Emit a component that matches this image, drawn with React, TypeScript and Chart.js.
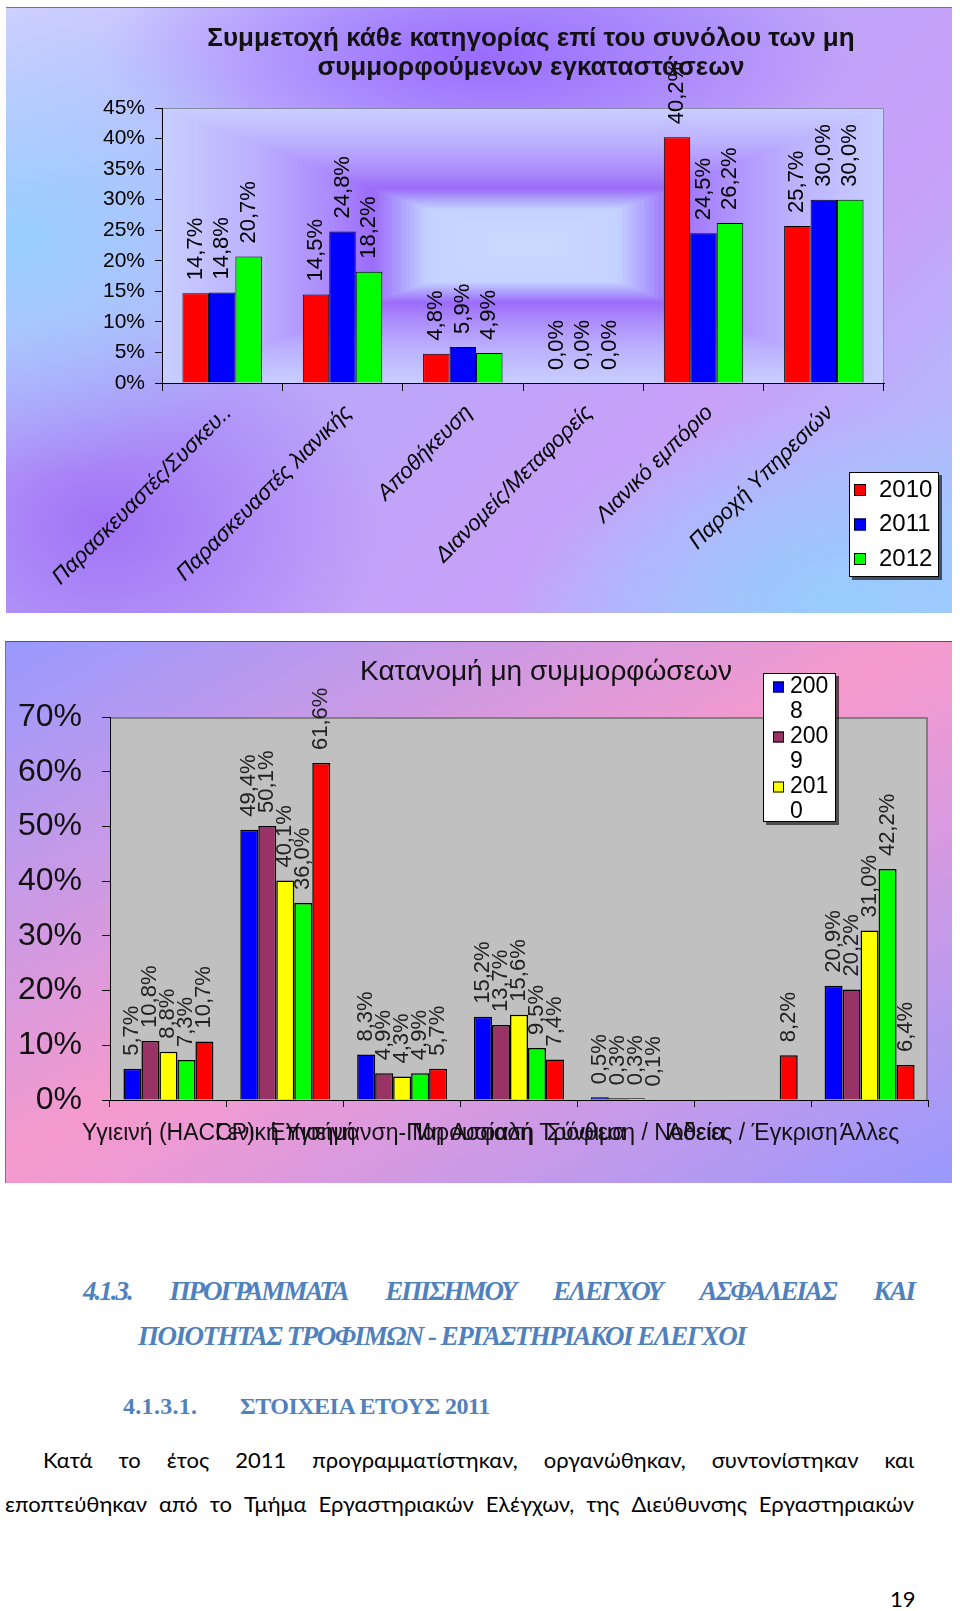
import React, { useEffect, useRef } from 'react';
import { Chart, registerables } from 'chart.js';

Chart.register(...registerables);

// ---------- Chart 1 data ----------
const cats1 = [
  'Παρασκευαστές/Συσκευ..',
  'Παρασκευαστές λιανικής',
  'Αποθήκευση',
  'Διανομείς/Μεταφορείς',
  'Λιανικό εμπόριο',
  'Παροχή Υπηρεσιών',
];
const years1 = ['2010', '2011', '2012'];
const c1y2010 = [14.7, 14.5, 4.8, 0.0, 40.2, 25.7];
const c1y2011 = [14.8, 24.8, 5.9, 0.0, 24.5, 30.0];
const c1y2012 = [20.7, 18.2, 4.9, 0.0, 26.2, 30.0];
const title1 = [
  'Συμμετοχή κάθε κατηγορίας επί του συνόλου των μη',
  'συμμορφούμενων εγκαταστάσεων',
];

// ---------- Chart 2 data ----------
const cats2 = [
  'Υγιεινή (HACCP)',
  'Γενική Υγιεινή',
  'Επισήμανση-Παρουσίαση',
  'Μη Ασφαλή Τρόφιμα',
  'Σύνθεση / Νοθεία',
  'Άδειες / Έγκριση',
  'Άλλες',
];
const years2 = ['2008', '2009', '2010', '2011', '2012'];
const c2y2008 = [5.7, 49.4, 8.3, 15.2, 0.5, null, 20.9];
const c2y2009 = [10.8, 50.1, 4.9, 13.7, 0.3, null, 20.2];
const c2y2010 = [8.8, 40.1, 4.3, 15.6, 0.3, null, 31.0];
const c2y2011 = [7.3, 36.0, 4.9, 9.5, 0.1, null, 42.2];
const c2y2012 = [10.7, 61.6, 5.7, 7.4, null, 8.2, 6.4];
const title2 = ['Κατανομή μη συμμορφώσεων'];

// ---------- page text ----------
const heading1Line1 = ['4.1.3.', 'ΠΡΟΓΡΑΜΜΑΤΑ', 'ΕΠΙΣΗΜΟΥ', 'ΕΛΕΓΧΟΥ', 'ΑΣΦΑΛΕΙΑΣ', 'ΚΑΙ'];
const heading1Line2 = 'ΠΟΙΟΤΗΤΑΣ ΤΡΟΦΙΜΩΝ - ΕΡΓΑΣΤΗΡΙΑΚΟΙ ΕΛΕΓΧΟΙ';
const heading2Num = '4.1.3.1.';
const heading2Text = 'ΣΤΟΙΧΕΙΑ ΕΤΟΥΣ 2011';
const bodyLine1 = 'Κατά το έτος 2011 προγραμματίστηκαν, οργανώθηκαν, συντονίστηκαν και'.split(' ');
const bodyLine2 = 'εποπτεύθηκαν από το Τμήμα Εργαστηριακών Ελέγχων, της Διεύθυνσης Εργαστηριακών'.split(' ');
const pageNumber = '19';

const SANS = "'Liberation Sans', Arial, sans-serif";

function fmtPct(v: number) {
  return v.toFixed(1).replace('.', ',') + '%';
}

function barLabels(size: number, color: string, offset: number) {
  return {
    id: 'barLabels',
    afterDatasetsDraw(chart: any) {
      const ctx = chart.ctx;
      ctx.save();
      ctx.font = `${size}px ${SANS}`;
      ctx.fillStyle = color;
      chart.data.datasets.forEach((ds: any, di: number) => {
        const meta = chart.getDatasetMeta(di);
        meta.data.forEach((bar: any, i: number) => {
          const v = ds.data[i];
          if (v === null || v === undefined) return;
          ctx.save();
          ctx.translate(bar.x, bar.y - offset);
          ctx.rotate(-Math.PI / 2);
          ctx.textAlign = 'left';
          ctx.textBaseline = 'middle';
          ctx.fillText(fmtPct(v), 0, 0);
          ctx.restore();
        });
      });
      ctx.restore();
    },
  };
}

function titlePlugin(lines: string[], font: string, cx: number, ys: number[], color: string) {
  return {
    id: 'customTitle',
    afterDraw(chart: any) {
      const ctx = chart.ctx;
      ctx.save();
      ctx.font = font;
      ctx.fillStyle = color;
      ctx.textAlign = 'center';
      ctx.textBaseline = 'middle';
      lines.forEach((ln, i) => ctx.fillText(ln, cx, ys[i]));
      ctx.restore();
    },
  };
}

function wrapText(ctx: CanvasRenderingContext2D, text: string, maxW: number) {
  const out: string[] = [];
  let cur = '';
  for (const ch of text) {
    if (cur && ctx.measureText(cur + ch).width > maxW) {
      out.push(cur);
      cur = ch;
    } else cur += ch;
  }
  if (cur) out.push(cur);
  return out;
}

function legendPlugin(cfg: any) {
  return {
    id: 'customLegend',
    afterDraw(chart: any) {
      const ctx = chart.ctx;
      const { x, y, w, h, font, markerX, marker, textX, firstY, lineH, maxW, count } = cfg;
      ctx.save();
      ctx.fillStyle = 'rgba(0,0,0,0.6)';
      ctx.fillRect(x + 3, y + 3, w, h);
      ctx.fillStyle = '#fff';
      ctx.fillRect(x, y, w, h);
      ctx.strokeStyle = '#000';
      ctx.lineWidth = 1;
      ctx.strokeRect(x + 0.5, y + 0.5, w - 1, h - 1);
      ctx.font = font;
      ctx.textBaseline = 'middle';
      ctx.textAlign = 'left';
      let cy = firstY;
      chart.data.datasets.slice(0, count).forEach((ds: any) => {
        const lines = wrapText(ctx, ds.label, maxW);
        ctx.fillStyle = ds.backgroundColor;
        ctx.fillRect(markerX, cy - marker / 2, marker, marker);
        ctx.strokeStyle = '#000';
        ctx.strokeRect(markerX + 0.5, cy - marker / 2 + 0.5, marker - 1, marker - 1);
        ctx.fillStyle = '#000';
        lines.forEach((ln, k) => ctx.fillText(ln, textX, cy + k * lineH));
        cy += lines.length * lineH;
      });
      ctx.restore();
    },
  };
}

// concentric "from centre" gradient in the plot area of chart 1
const plotBg1 = {
  id: 'plotBg1',
  beforeDraw(chart: any) {
    const { left, top, right, bottom } = chart.chartArea;
    const ctx = chart.ctx;
    const cx = (left + right) / 2;
    const cy = (top + bottom) / 2;
    const hw = (right - left) / 2;
    const hh = (bottom - top) / 2;
    const stops: [number, number[]][] = [
      [1.0, [200, 206, 255]],
      [0.75, [188, 176, 255]],
      [0.55, [172, 140, 252]],
      [0.42, [156, 108, 250]],
      [0.33, [178, 170, 255]],
      [0.27, [196, 210, 255]],
      [0.0, [205, 218, 255]],
    ];
    const colorAt = (s: number) => {
      for (let i = 0; i < stops.length - 1; i++) {
        const [s0, c0] = stops[i];
        const [s1, c1] = stops[i + 1];
        if (s <= s0 && s >= s1) {
          const t = (s0 - s) / (s0 - s1);
          return c0.map((c, k) => Math.round(c + (c1[k] - c) * t));
        }
      }
      return stops[stops.length - 1][1];
    };
    ctx.save();
    const N = 80;
    for (let i = 0; i <= N; i++) {
      const s = 1 - i / N;
      const c = colorAt(s);
      ctx.fillStyle = `rgb(${c[0]},${c[1]},${c[2]})`;
      ctx.fillRect(cx - hw * s, cy - hh * s, 2 * hw * s, 2 * hh * s);
    }
    ctx.strokeStyle = '#8a8aa8';
    ctx.lineWidth = 1;
    ctx.beginPath();
    ctx.moveTo(left, top + 0.5);
    ctx.lineTo(right - 0.5, top + 0.5);
    ctx.lineTo(right - 0.5, bottom);
    ctx.stroke();
    ctx.restore();
  },
};

const plotBg2 = {
  id: 'plotBg2',
  beforeDraw(chart: any) {
    const { left, top, right, bottom } = chart.chartArea;
    const ctx = chart.ctx;
    ctx.save();
    ctx.fillStyle = '#c0c0c0';
    ctx.fillRect(left, top, right - left, bottom - top);
    ctx.strokeStyle = '#808080';
    ctx.lineWidth = 2;
    ctx.beginPath();
    ctx.moveTo(left, top + 1);
    ctx.lineTo(right - 1, top + 1);
    ctx.lineTo(right - 1, bottom);
    ctx.stroke();
    ctx.restore();
  },
};

function Chart1() {
  const ref = useRef<HTMLCanvasElement>(null);
  useEffect(() => {
    const colors = ['#ff0000', '#0000ff', '#00ff00'];
    const series = [c1y2010, c1y2011, c1y2012];
    const chart = new Chart(ref.current as HTMLCanvasElement, {
      type: 'bar',
      data: {
        labels: cats1,
        datasets: series.map((d, i) => ({
          label: years1[i],
          data: d,
          backgroundColor: colors[i],
          borderColor: '#000',
          borderWidth: 1,
          categoryPercentage: 0.66,
          barPercentage: 1,
        })),
      },
      options: {
        animation: false,
        responsive: false,
        devicePixelRatio: 1,
        layout: { padding: { top: 100, right: 68, left: 0, bottom: 0 } },
        plugins: { legend: { display: false }, title: { display: false }, tooltip: { enabled: false } },
        scales: {
          x: {
            grid: { display: true, drawOnChartArea: false, drawTicks: true, tickLength: 8, color: '#000', offset: true },
            border: { display: true, color: '#000', width: 1 },
            ticks: {
              autoSkip: false,
              minRotation: 45,
              maxRotation: 45,
              padding: 9,
              labelOffset: 6,
              color: '#000',
              font: { family: SANS, size: 22, style: 'italic' },
            },
            afterFit: (s: any) => { s.height = 230; },
          },
          y: {
            min: 0,
            max: 45,
            ticks: {
              stepSize: 5,
              padding: 10,
              color: '#000',
              font: { family: SANS, size: 21 },
              callback: (v: any) => v + '%',
            },
            grid: { display: true, drawOnChartArea: false, drawTicks: true, tickLength: 7, color: '#000' },
            border: { display: true, color: '#000', width: 1 },
            afterFit: (s: any) => { s.width = 156; },
          },
        },
      },
      plugins: [
        plotBg1,
        barLabels(22, '#000', 13),
        titlePlugin(title1, `bold 26px ${SANS}`, 525, [31, 60], '#111'),
        legendPlugin({
          x: 843, y: 464, w: 90, h: 105, font: `24px ${SANS}`,
          markerX: 848, marker: 12, textX: 873, firstY: 482, lineH: 34.5, maxW: 200, count: 3,
        }),
      ],
    } as any);
    return () => chart.destroy();
  }, []);
  return <canvas ref={ref} width={946} height={605} style={{ display: 'block', width: 946, height: 605 }} />;
}

function Chart2() {
  const ref = useRef<HTMLCanvasElement>(null);
  useEffect(() => {
    const colors = ['#0000ff', '#993366', '#ffff00', '#00ff00', '#ff0000'];
    const series = [c2y2008, c2y2009, c2y2010, c2y2011, c2y2012];
    const chart = new Chart(ref.current as HTMLCanvasElement, {
      type: 'bar',
      data: {
        labels: cats2,
        datasets: series.map((d, i) => ({
          label: years2[i],
          data: d,
          backgroundColor: colors[i],
          borderColor: '#000',
          borderWidth: 1.5,
          categoryPercentage: 0.77,
          barPercentage: 1,
        })),
      },
      options: {
        animation: false,
        responsive: false,
        devicePixelRatio: 1,
        layout: { padding: { top: 76, right: 24, left: 0, bottom: 0 } },
        plugins: { legend: { display: false }, title: { display: false }, tooltip: { enabled: false } },
        scales: {
          x: {
            grid: { display: true, drawOnChartArea: false, drawTicks: true, tickLength: 7, color: '#000', offset: true },
            border: { display: true, color: '#000', width: 1 },
            ticks: {
              autoSkip: false,
              minRotation: 0,
              maxRotation: 0,
              padding: 13,
              color: '#111',
              font: { family: SANS, size: 23 },
            },
            afterFit: (s: any) => { s.height = 83; },
          },
          y: {
            min: 0,
            max: 70,
            ticks: {
              stepSize: 10,
              padding: 20,
              color: '#111',
              font: { family: SANS, size: 32 },
              callback: (v: any) => v + '%',
            },
            grid: { display: true, drawOnChartArea: false, drawTicks: true, tickLength: 8, color: '#000' },
            border: { display: true, color: '#000', width: 1 },
            afterFit: (s: any) => { s.width = 105; },
          },
        },
      },
      plugins: [
        plotBg2,
        barLabels(22, '#222', 13),
        titlePlugin(title2, `28px ${SANS}`, 541, [31], '#111'),
        legendPlugin({
          x: 758, y: 32, w: 73, h: 149, font: `23px ${SANS}`,
          markerX: 768, marker: 11, textX: 785, firstY: 46, lineH: 25, maxW: 46, count: 3,
        }),
      ],
    } as any);
    return () => chart.destroy();
  }, []);
  return <canvas ref={ref} width={947} height={542} style={{ display: 'block', width: 947, height: 542 }} />;
}

const bg1 = [
  'radial-gradient(ellipse 30% 40% at 2% 38%, rgba(150,208,255,0.95), rgba(150,208,255,0) 100%)',
  'radial-gradient(ellipse 35% 32% at 88% 98%, rgba(150,204,255,0.95), rgba(150,204,255,0) 100%)',
  'radial-gradient(ellipse 40% 22% at 50% 8%, rgba(150,100,255,0.9), rgba(150,100,255,0) 100%)',
  'radial-gradient(ellipse 30% 35% at 10% 85%, rgba(160,110,245,0.9), rgba(160,110,245,0) 100%)',
  'linear-gradient(135deg, #d0d0ff 0%, #b8a8fa 40%, #c8a0f8 70%, #a8c8ff 100%)',
].join(',');

const bg2 = 'linear-gradient(to bottom right, #9999ff 0%, #f59acd 48%, #ee9ad4 55%, #9999ff 100%)';

const BLUE = '#4f81bd';
const SERIF = "'Liberation Serif', 'Times New Roman', serif";
const BODY = "Lato, 'Open Sans', sans-serif";

export default function App() {
  return (
    <div style={{ position: 'absolute', left: 0, top: 0, width: 960, height: 1611, background: '#fff', overflow: 'hidden' }}>
      <div style={{ position: 'absolute', left: 6, top: 7, width: 946, height: 605, background: bg1, borderTop: '1px solid #707090' }}>
        <Chart1 />
      </div>
      <div style={{ position: 'absolute', left: 5, top: 641, width: 947, height: 542, background: bg2, borderTop: '1px solid #555', borderLeft: '1px solid #777', boxSizing: 'border-box' }}>
        <div style={{ position: 'absolute', left: -1, top: -1 }}>
          <Chart2 />
        </div>
      </div>

      <div style={{
        position: 'absolute', left: 83, top: 1276, width: 831, display: 'flex', justifyContent: 'space-between',
        font: `italic bold 27px ${SERIF}`, letterSpacing: '-2px', color: BLUE, lineHeight: '30px', whiteSpace: 'nowrap',
      }}>
        {heading1Line1.map((w, i) => <span key={i}>{w}</span>)}
      </div>
      <div style={{
        position: 'absolute', left: 138, top: 1321, font: `italic bold 27px ${SERIF}`, letterSpacing: '-1.5px',
        color: BLUE, lineHeight: '30px', whiteSpace: 'nowrap',
      }}>{heading1Line2}</div>

      <div style={{ position: 'absolute', left: 123, top: 1392, font: `bold 24px ${SERIF}`, letterSpacing: '0.3px', color: BLUE, lineHeight: '28px', whiteSpace: 'nowrap' }}>{heading2Num}</div>
      <div style={{ position: 'absolute', left: 240, top: 1392, font: `bold 24px ${SERIF}`, letterSpacing: '-0.5px', color: BLUE, lineHeight: '28px', whiteSpace: 'nowrap' }}>{heading2Text}</div>

      <div style={{
        position: 'absolute', left: 43, top: 1447, width: 871, display: 'flex', justifyContent: 'space-between',
        font: `22px ${BODY}`, color: '#000', lineHeight: '26px', whiteSpace: 'nowrap',
      }}>
        {bodyLine1.map((w, i) => <span key={i}>{w}</span>)}
      </div>
      <div style={{
        position: 'absolute', left: 5, top: 1491, width: 909, display: 'flex', justifyContent: 'space-between',
        font: `22px ${BODY}`, color: '#000', lineHeight: '26px', whiteSpace: 'nowrap',
      }}>
        {bodyLine2.map((w, i) => <span key={i}>{w}</span>)}
      </div>

      <div style={{ position: 'absolute', left: 890, top: 1586, font: `22px ${BODY}`, color: '#000', lineHeight: '26px' }}>{pageNumber}</div>
    </div>
  );
}
